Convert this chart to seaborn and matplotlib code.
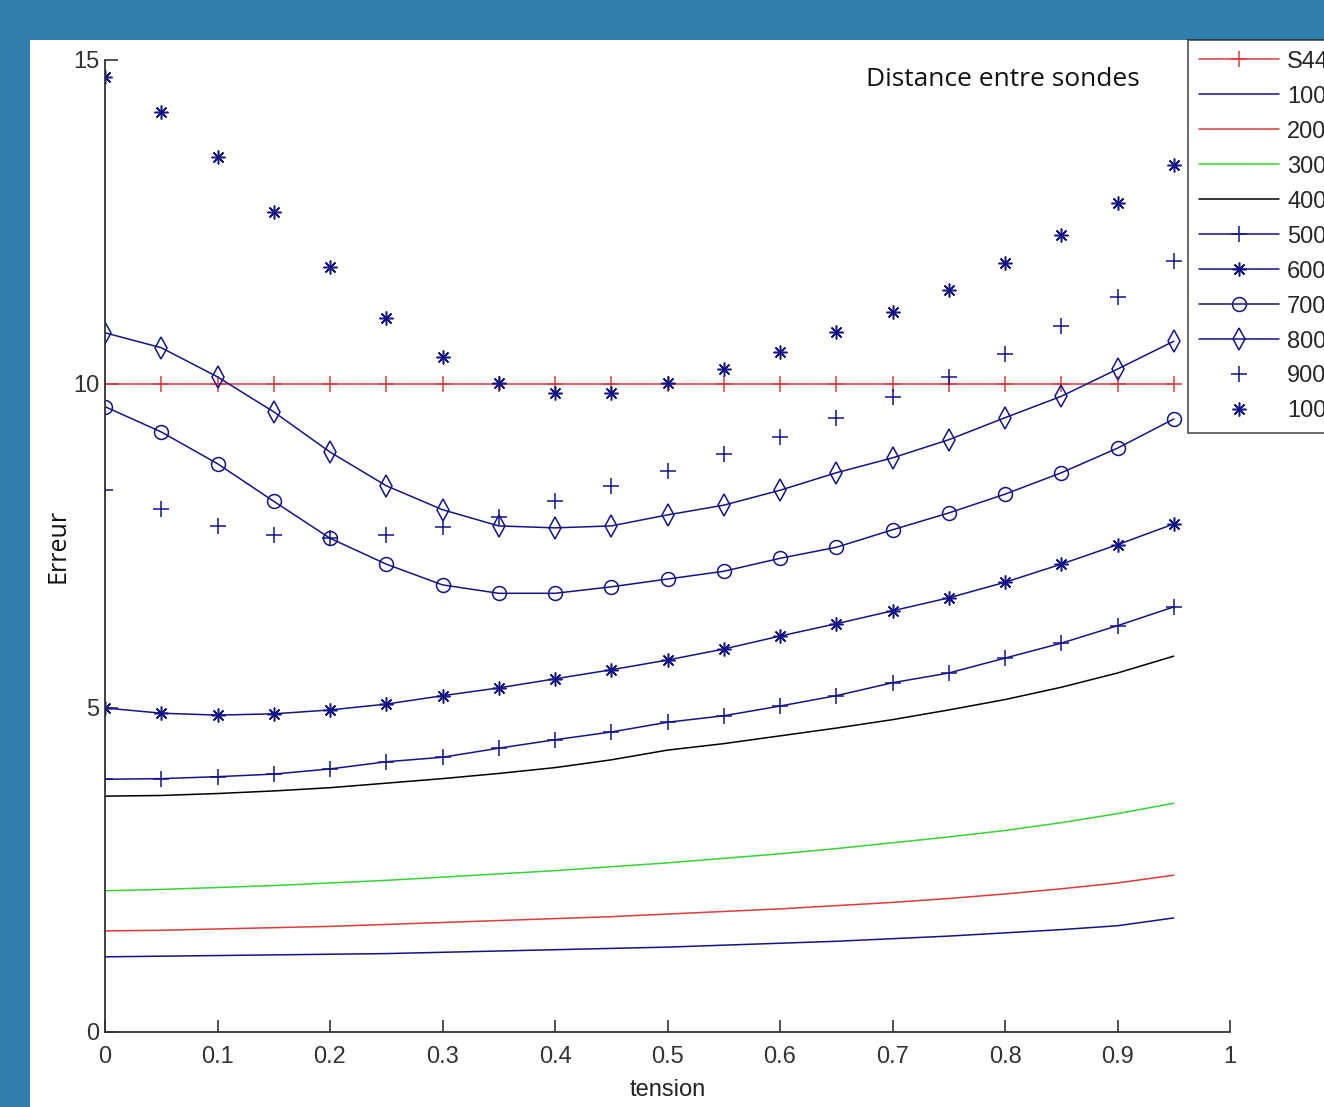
import numpy as np
import pandas as pd
import matplotlib
matplotlib.use("Agg")
import matplotlib.pyplot as plt
from matplotlib.patches import Rectangle
import seaborn as sns

# tension values (x axis)
tension = [0, 0.05, 0.1, 0.15, 0.2, 0.25, 0.3, 0.35, 0.4, 0.45,
           0.5, 0.55, 0.6, 0.65, 0.7, 0.75, 0.8, 0.85, 0.9, 0.95]

s44 = [10] * 20
d1000 = [1.16, 1.17, 1.18, 1.19, 1.20, 1.21, 1.23, 1.25, 1.27, 1.29,
         1.31, 1.34, 1.37, 1.40, 1.44, 1.48, 1.53, 1.58, 1.64, 1.76]
d2000 = [1.56, 1.57, 1.59, 1.61, 1.63, 1.66, 1.69, 1.72, 1.75, 1.78,
         1.82, 1.86, 1.90, 1.95, 2.00, 2.06, 2.13, 2.21, 2.30, 2.42]
d3000 = [2.18, 2.20, 2.23, 2.26, 2.30, 2.34, 2.39, 2.44, 2.49, 2.55,
         2.61, 2.68, 2.75, 2.83, 2.92, 3.01, 3.11, 3.23, 3.37, 3.53]
d4000 = [3.64, 3.65, 3.68, 3.72, 3.77, 3.84, 3.91, 3.99, 4.08, 4.20,
         4.35, 4.45, 4.57, 4.69, 4.82, 4.97, 5.13, 5.32, 5.54, 5.80]
d5000 = [3.90, 3.91, 3.94, 3.98, 4.06, 4.17, 4.24, 4.38, 4.51, 4.63,
         4.78, 4.88, 5.03, 5.19, 5.39, 5.54, 5.77, 6.00, 6.27, 6.56]
d6000 = [5.00, 4.92, 4.89, 4.91, 4.97, 5.06, 5.19, 5.31, 5.45, 5.59,
         5.74, 5.91, 6.11, 6.30, 6.50, 6.70, 6.94, 7.22, 7.52, 7.84]
d7000 = [9.65, 9.26, 8.77, 8.19, 7.62, 7.22, 6.90, 6.77, 6.77, 6.87,
         6.99, 7.11, 7.31, 7.48, 7.75, 8.01, 8.30, 8.63, 9.01, 9.46]
d8000 = [10.79, 10.56, 10.11, 9.57, 8.95, 8.43, 8.06, 7.81, 7.78, 7.81,
         7.98, 8.13, 8.36, 8.63, 8.86, 9.14, 9.48, 9.81, 10.23, 10.66]
d9000 = [8.36, 8.07, 7.81, 7.67, 7.62, 7.67, 7.79, 7.95, 8.19, 8.43,
         8.66, 8.92, 9.18, 9.48, 9.80, 10.11, 10.46, 10.90, 11.34, 11.90]
d10000 = [14.74, 14.20, 13.50, 12.65, 11.81, 11.02, 10.42, 10.02, 9.86, 9.86,
          10.02, 10.23, 10.49, 10.80, 11.11, 11.45, 11.87, 12.30, 12.79, 13.38]

labels = ["S44", "1000", "2000", "3000", "4000", "5000",
          "6000", "7000", "8000", "9000", "10000"]
values = [s44, d1000, d2000, d3000, d4000, d5000, d6000, d7000, d8000, d9000, d10000]

navy = "#14148a"
asterisk = (8, 2, 0)
styles = [
    dict(color="#e03a3a", marker="+", ls="-", ms=11),
    dict(color=navy, marker=None, ls="-", ms=0),
    dict(color="#e03a3a", marker=None, ls="-", ms=0),
    dict(color="#33d633", marker=None, ls="-", ms=0),
    dict(color="black", marker=None, ls="-", ms=0),
    dict(color=navy, marker="+", ls="-", ms=12),
    dict(color=navy, marker=asterisk, ls="-", ms=10),
    dict(color=navy, marker="o", ls="-", ms=10),
    dict(color=navy, marker="d", ls="-", ms=11),
    dict(color=navy, marker="+", ls="", ms=12),
    dict(color=navy, marker=asterisk, ls="", ms=10),
]

df = pd.DataFrame({"tension": tension})
for lab, v in zip(labels, values):
    df[lab] = v

sns.set_style("white")
plt.rcParams["font.family"] = ["Liberation Sans Narrow", "Liberation Sans", "DejaVu Sans"]

fig = plt.figure(figsize=(13.24, 11.07), dpi=100)
fig.patch.set_facecolor("#2f7eab")
fig.patches.append(Rectangle((30 / 1324, 0), 1, 1 - 40 / 1107, transform=fig.transFigure,
                             facecolor="white", edgecolor="none", zorder=-5))

ax = fig.add_axes([105 / 1324, 75 / 1107, 1125 / 1324, 972 / 1107])
ax.set_facecolor("none")
ax.set_zorder(2)

for lab, st in zip(labels, styles):
    sns.lineplot(data=df, x="tension", y=lab, ax=ax, label=lab, color=st["color"],
                 marker=st["marker"], linestyle=st["ls"], markersize=st["ms"],
                 markerfacecolor="none", markeredgecolor=st["color"], markeredgewidth=1.1,
                 linewidth=1.1, estimator=None, errorbar=None, legend=False)

ax.set_xlim(0, 1)
ax.set_ylim(0, 15)
ax.set_xticks(np.arange(0, 1.01, 0.1))
ax.set_xticklabels(["0", "0.1", "0.2", "0.3", "0.4", "0.5", "0.6", "0.7", "0.8", "0.9", "1"])
ax.set_yticks([0, 5, 10, 15])
ax.tick_params(direction="in", length=9, width=1.2, colors="#333333", labelsize=17,
               bottom=True, left=True)
ax.tick_params(axis="y", pad=4)
ax.tick_params(axis="x", pad=10)
sns.despine(ax=ax)
for sp in ["left", "bottom"]:
    ax.spines[sp].set_color("#333333")
    ax.spines[sp].set_linewidth(1.3)

ax.set_xlabel("tension", fontsize=17, color="#222222", labelpad=8)
ax.set_ylabel("Erreur", fontsize=18, color="#111111", family=["Open Sans", "DejaVu Sans"],
              labelpad=2)

fig.text(866 / 1324, 1 - 80 / 1107, "Distance entre sondes", fontsize=19,
         family=["Open Sans", "DejaVu Sans"], va="center", ha="left", color="#111111")

handles, _ = ax.get_legend_handles_labels()
leg = fig.legend(handles, labels, loc="upper left",
                 bbox_to_anchor=(1188 / 1324, 1 - 40 / 1107), bbox_transform=fig.transFigure,
                 fontsize=17, frameon=True, fancybox=False, handlelength=3.4,
                 handletextpad=0.35, labelspacing=0.55, borderpad=0.45, borderaxespad=0)
leg.get_frame().set_edgecolor("#222222")
leg.get_frame().set_linewidth(1.2)
leg.set_zorder(5)

fig.savefig("out.png", dpi=100, facecolor=fig.get_facecolor())
